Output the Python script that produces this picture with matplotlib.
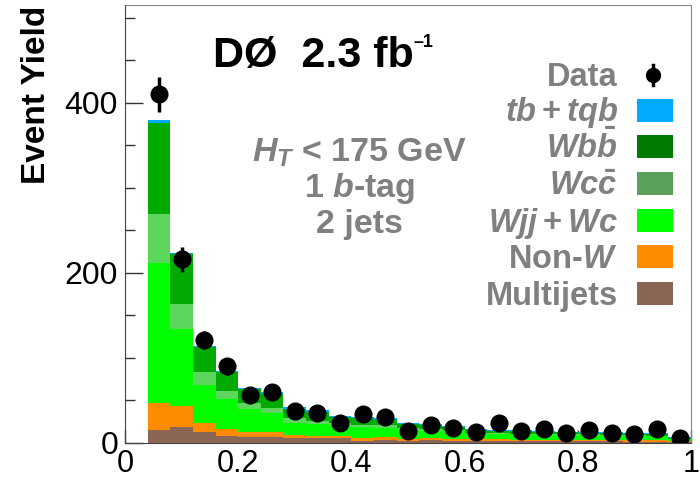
import matplotlib
matplotlib.use('Agg')
import matplotlib.pyplot as plt
from matplotlib.patches import Rectangle
from matplotlib.ticker import MultipleLocator
import numpy as np

plt.rcParams['font.family'] = ['Liberation Sans', 'DejaVu Sans']
plt.rcParams['mathtext.fontset'] = 'custom'
plt.rcParams['mathtext.rm'] = 'Liberation Sans:bold'
plt.rcParams['mathtext.bf'] = 'Liberation Sans:bold'
plt.rcParams['mathtext.it'] = 'Liberation Sans:bold:italic'

# ---------------- data ----------------
bin_edges = np.round(np.arange(0.04, 1.0001, 0.04), 2)
multijets = [15, 19, 12.5, 8, 7, 7, 6, 6, 6, 2.7, 3.5, 2.5, 3, 2.7, 2.5, 2.5, 2, 2, 2, 2, 2, 1.5, 1.5, 1]
non_w     = [32, 24, 11.5, 8, 6, 6, 3.5, 2.7, 2, 2.8, 3, 2, 2.5, 2.3, 2, 2, 2, 2, 1.5, 1.5, 1.5, 1.5, 1.5, 1]
wjj_wc    = [165, 91, 44, 36, 27, 22, 14.5, 13.3, 12, 13, 11.5, 10.8, 9, 9, 6.5, 6, 6, 5.5, 5.5, 5.5, 5, 5, 5, 2.5]
wcc       = [57, 29.5, 15, 9.5, 7, 6.5, 5, 4, 3, 3, 3, 2, 2, 1.5, 1.2, 1.2, 1, 1, 1, 1, 1, 1, 0.8, 0.5]
wbb       = [107, 58.5, 30, 21.5, 16, 16.5, 11, 11, 7, 7.5, 6, 4.7, 4.5, 3.5, 2.8, 2.8, 3, 2.5, 2.5, 2, 2, 2, 2, 1]
tb_tqb    = [4, 1.5, 1, 2, 2, 2, 2, 2, 2, 2, 2, 1.5, 1.5, 1.5, 1, 1, 1, 1, 1, 1, 1, 1, 1, 0.5]
data      = [410, 216, 121, 90, 56, 60, 38, 35, 23, 34, 30, 14, 21, 17.6, 12.5, 24,
             14.5, 17, 12, 15, 12, 10.6, 16, 5.5]

labels = ['Multijets', 'Non-$W$', '$Wjj+Wc$', r'$Wc\bar{c}$', r'$Wb\bar{b}$', '$tb+tqb$']
hist_colors = ['#8b6655', '#ff8c00', '#00ff00', '#5cd65c', '#00aa00', '#00aaff']
leg_colors  = ['#8b6655', '#ff8c00', '#00ff00', '#5aa05a', '#007a00', '#00aaff']
components = [multijets, non_w, wjj_wc, wcc, wbb, tb_tqb]

# ---------------- plot ----------------
fig = plt.figure(figsize=(7, 4.8), dpi=100)
ax = fig.add_axes([0.1786, 0.0771, 0.8084, 0.9125])

left = bin_edges[:-1]
width = np.diff(bin_edges)
bottom = np.zeros(len(left))
for comp, col in zip(components, hist_colors):
    comp = np.array(comp, dtype=float)
    ax.bar(left, comp, width=width, bottom=bottom, align='edge', color=col,
           linewidth=0, zorder=2)
    bottom += comp

centers = left + width / 2
data = np.array(data)
ax.errorbar(centers, data, yerr=np.sqrt(data), fmt='o', color='black',
            markersize=12, elinewidth=2.5, capsize=0, zorder=5)

ax.set_xlim(0, 1)
ax.set_ylim(0, 515)
ax.xaxis.set_minor_locator(MultipleLocator(0.05))
ax.yaxis.set_major_locator(MultipleLocator(200))
ax.yaxis.set_minor_locator(MultipleLocator(50))
ax.set_xticks([0, 0.2, 0.4, 0.6, 0.8, 1.0])
ax.set_xticklabels(['0', '0.2', '0.4', '0.6', '0.8', '1'])
ax.tick_params(axis='both', which='both', direction='in', labelsize=23,
               colors='#333333', labelcolor='black')
ax.tick_params(axis='y', which='major', length=13, width=1, pad=5)
ax.tick_params(axis='y', which='minor', length=7, width=1)
ax.tick_params(axis='x', which='major', length=9.5, width=1, pad=4, labelsize=22)
ax.tick_params(axis='x', which='minor', length=5, width=1)
for s in ['top', 'right']:
    ax.spines[s].set_color('#888888')
for s in ['left', 'bottom']:
    ax.spines[s].set_color('#444444')
    ax.spines[s].set_zorder(6)

ax.set_ylabel('Event Yield', fontsize=24, fontweight='bold')
ax.yaxis.set_label_coords(-0.129, 0.795)

ax.text(0.155, 0.858, 'DØ  2.3 fb', transform=ax.transAxes,
        fontsize=31, fontweight='bold', ha='left', va='baseline', color='black')
ax.text(0.51, 0.904, '–1', transform=ax.transAxes,
        fontsize=13, fontweight='bold', ha='left', va='baseline', color='black')

gray = '#808080'
ax.text(0.415, 0.6416, '$H_T$ < 175 GeV', transform=ax.transAxes,
        fontsize=24.5, fontweight='bold', ha='center', va='baseline', color=gray)
ax.text(0.415, 0.5616, '1 $b$-tag', transform=ax.transAxes,
        fontsize=24.5, fontweight='bold', ha='center', va='baseline', color=gray)
ax.text(0.415, 0.479, '2 jets', transform=ax.transAxes,
        fontsize=24.5, fontweight='bold', ha='center', va='baseline', color=gray)

# legend drawn by hand (right-aligned labels)
rows_y = [0.815, 0.735, 0.651, 0.567, 0.482, 0.400, 0.315]
ax.text(0.871, rows_y[0], 'Data', transform=ax.transAxes, fontsize=23.5,
        fontweight='bold', ha='right', va='baseline', color=gray)
ax.plot([0.933], [0.840], 'o', color='black', markersize=10,
        transform=ax.transAxes, clip_on=False, zorder=7)
ax.plot([0.933, 0.933], [0.817, 0.863], '-', color='black',
        lw=2.5, transform=ax.transAxes, clip_on=False, zorder=7)
for i, (lab, col) in enumerate(zip(labels[::-1], leg_colors[::-1])):
    y = rows_y[i + 1]
    ax.text(0.871, y, lab, transform=ax.transAxes, fontsize=23.5,
            fontweight='bold', ha='right', va='baseline', color=gray)
    ax.add_patch(Rectangle((0.9046, y - 0.001), 0.0634, 0.0525, transform=ax.transAxes,
                           facecolor=col, edgecolor='none', zorder=7))

fig.savefig('out.png', dpi=100)
